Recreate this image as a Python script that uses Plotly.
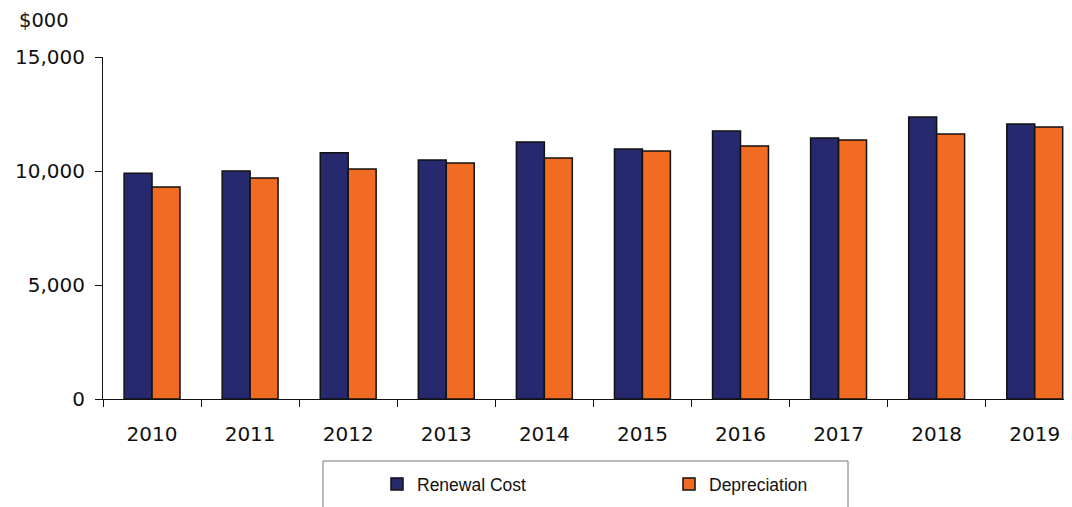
import plotly.graph_objects as go

years = ["2010", "2011", "2012", "2013", "2014", "2015", "2016", "2017", "2018", "2019"]
renewal_cost = [9900, 10000, 10800, 10480, 11270, 10960, 11750, 11450, 12370, 12060]
depreciation = [9300, 9690, 10090, 10350, 10570, 10880, 11100, 11360, 11620, 11930]
y_ticks = [0, 5000, 10000, 15000]
y_tick_labels = ["0", "5,000", "10,000", "15,000"]

OFF = 8  # default page body margin
W, H = 1072 - OFF, 507 - OFF
L, R, T, B = 103 - OFF, 0, 57 - OFF, 507 - 399
pw, ph = W - L - R, H - T - B

def px(x):
    return (x - OFF - L) / pw

def py(y):
    return (H - B - (y - OFF)) / ph

fig = go.Figure()
fig.add_trace(go.Bar(x=years, y=renewal_cost, name="Renewal Cost",
                     marker=dict(color="#27296F", line=dict(color="#111111", width=1.5))))
fig.add_trace(go.Bar(x=years, y=depreciation, name="Depreciation",
                     marker=dict(color="#F26B22", line=dict(color="#111111", width=1.5))))

fig.update_layout(
    width=W, height=H,
    margin=dict(l=L, r=R, t=T, b=B, autoexpand=False),
    plot_bgcolor="white", paper_bgcolor="white",
    barmode="group", bargap=0.43, bargroupgap=0,
    font=dict(family="DejaVu Sans", size=20, color="#111111"),
    showlegend=True,
    legend=dict(orientation="h", x=px(377), xanchor="left", y=py(466), yanchor="top",
                font=dict(family="Liberation Sans", size=17.5, color="#111111"),
                entrywidth=247, entrywidthmode="pixels", bgcolor="rgba(0,0,0,0)"),
    xaxis=dict(type="category", range=[-0.5, 9.38], showline=True, linecolor="#111111",
               linewidth=1, ticks="outside", tickson="boundaries", ticklen=7,
               tickcolor="#111111", showgrid=False, ticklabelstandoff=17,
               automargin=False),
    yaxis=dict(range=[0, 15000], tickvals=y_ticks, ticktext=y_tick_labels,
               showline=True, linecolor="#111111", linewidth=1, ticks="outside",
               ticklen=7, tickcolor="#111111", showgrid=False, zeroline=False,
               ticklabelstandoff=6, automargin=False),
    shapes=[dict(type="rect", xref="paper", yref="paper", x0=px(323), x1=px(848),
                 y0=py(461), y1=py(530), line=dict(color="#777777", width=1))],
    annotations=[dict(text="$000", xref="paper", yref="paper", x=px(18), y=py(8),
                      xanchor="left", yanchor="top", showarrow=False, borderpad=0,
                      font=dict(family="DejaVu Sans", size=19.5, color="#111111"))],
)

fig.write_html("out.html")
